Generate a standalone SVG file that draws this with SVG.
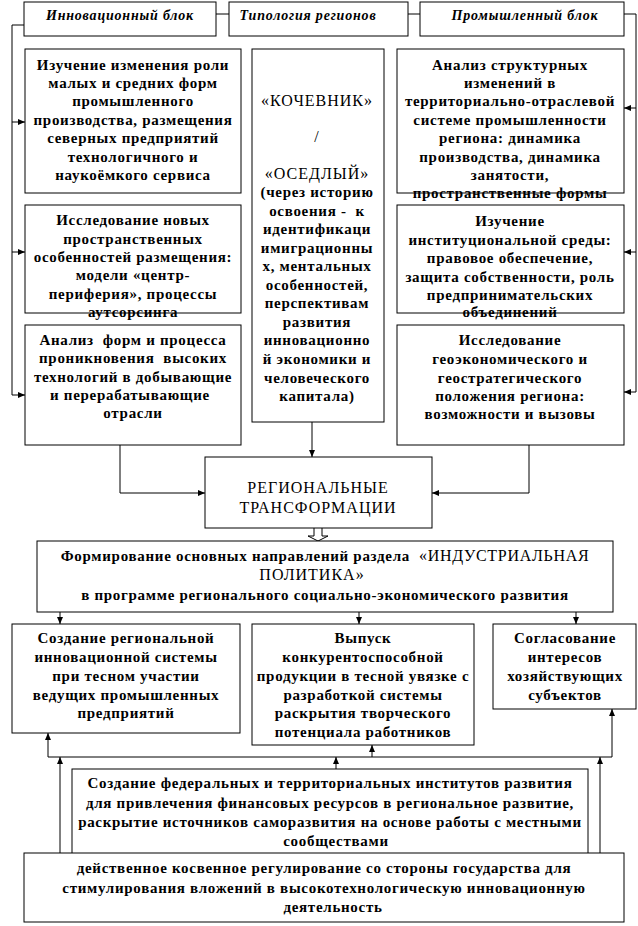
<svg xmlns="http://www.w3.org/2000/svg" width="638" height="926" viewBox="0 0 638 926">
<style>
.bx{fill:#fff;stroke:#000;stroke-width:1}
.t{font-family:"Liberation Serif","Times New Roman",serif;font-size:15px;font-weight:bold;letter-spacing:0.7px;text-anchor:middle;fill:#000}
.h{font-family:"Liberation Serif","Times New Roman",serif;font-size:14px;font-weight:bold;font-style:italic;letter-spacing:0.8px;text-anchor:middle;fill:#000}
.n{font-family:"Liberation Serif","Times New Roman",serif;font-size:16px;font-weight:normal;letter-spacing:1px;text-anchor:middle;fill:#000}
.c{fill:none;stroke:#000;stroke-width:1}
.a{marker-end:url(#ah)}
</style>
<defs>
<marker id="ah" markerUnits="userSpaceOnUse" markerWidth="8" markerHeight="8" refX="7" refY="3" orient="auto">
<path d="M0,0 L7,3 L0,6 z" fill="#000"/>
</marker>
</defs>
<rect x="0" y="0" width="638" height="926" fill="#fff"/>

<g id="connectors">
<path class="c" d="M216,14 H229"/>
<path class="c" d="M408,14 H420"/>
<path class="c a" d="M24,25 H12 V395 H25"/>
<path class="c a" d="M12,122 H25"/>
<path class="c a" d="M12,252 H25"/>
<path class="c a" d="M624,14 H636 V392 H624"/>
<path class="c a" d="M636,108 H624"/>
<path class="c a" d="M636,252 H624"/>
<path class="c a" d="M312,422 V457"/>
<path class="c a" d="M120,445 V493 H205"/>
<path class="c a" d="M529,445 V493 H432"/>
<path class="c" d="M314,528 V536 H308 L318,541 L328,536 H322 V528" fill="#fff"/>
<path class="c a" d="M60,612 V624"/>
<path class="c a" d="M359,612 V624"/>
<path class="c a" d="M576,612 V624"/>
<path class="c" d="M48,757 H612"/>
<path class="c a" d="M48,757 V733"/>
<path class="c a" d="M372,757 V745"/>
<path class="c a" d="M612,757 V709"/>
<path class="c a" d="M60,853 V757"/>
<path class="c a" d="M336,769 V757"/>
<path class="c a" d="M600,853 V757"/>
</g>

<g id="hdr-innov">
<rect class="bx" x="24" y="2" width="192" height="34"/>
<text class="h" x="120" y="20">Инновационный блок</text>
</g>
<g id="hdr-typ">
<rect class="bx" x="229" y="2" width="179" height="34"/>
<text class="h" x="308" y="20">Типология регионов</text>
</g>
<g id="hdr-prom">
<rect class="bx" x="420" y="2" width="204" height="34"/>
<text class="h" x="525" y="20">Промышленный блок</text>
</g>

<g id="left1">
<rect class="bx" x="25" y="49" width="216" height="144"/>
<text class="t" x="133" y="70">Изучение изменения роли</text>
<text class="t" x="133" y="88">малых и средних форм</text>
<text class="t" x="133" y="106">промышленного</text>
<text class="t" x="133" y="125">производства, размещения</text>
<text class="t" x="133" y="143">северных предприятий</text>
<text class="t" x="133" y="162">технологичного и</text>
<text class="t" x="133" y="180">наукоёмкого сервиса</text>
</g>
<g id="left2">
<rect class="bx" x="25" y="205" width="216" height="108"/>
<text class="t" x="133" y="225">Исследование новых</text>
<text class="t" x="133" y="244">пространственных</text>
<text class="t" x="133" y="262">особенностей размещения:</text>
<text class="t" x="133" y="280">модели «центр-</text>
<text class="t" x="133" y="299">периферия», процессы</text>
<text class="t" x="133" y="317">аутсорсинга</text>
</g>
<g id="left3">
<rect class="bx" x="25" y="325" width="216" height="120"/>
<text class="t" x="133" y="345" xml:space="preserve">Анализ  форм и процесса</text>
<text class="t" x="133" y="363" xml:space="preserve">проникновения  высоких</text>
<text class="t" x="133" y="382">технологий в добывающие</text>
<text class="t" x="130" y="400">и перерабатывающие</text>
<text class="t" x="133" y="418">отрасли</text>
</g>

<g id="center">
<rect class="bx" x="252" y="49" width="132" height="373"/>
<text class="n" x="317" y="106">«КОЧЕВНИК»</text>
<text class="n" x="317" y="142">/</text>
<text class="n" x="317" y="179">«ОСЕДЛЫЙ»</text>
<text class="t" x="317" y="197">(через историю</text>
<text class="t" x="317" y="216" xml:space="preserve">освоения -  к</text>
<text class="t" x="317" y="234">идентификаци</text>
<text class="t" x="317" y="253">имиграционны</text>
<text class="t" x="317" y="271">х, ментальных</text>
<text class="t" x="317" y="290">особенностей,</text>
<text class="t" x="317" y="308">перспективам</text>
<text class="t" x="317" y="327">развития</text>
<text class="t" x="317" y="345">инновационно</text>
<text class="t" x="317" y="364">й экономики и</text>
<text class="t" x="317" y="383">человеческого</text>
<text class="t" x="317" y="401">капитала)</text>
</g>

<g id="right1">
<rect class="bx" x="397" y="49" width="227" height="144"/>
<text class="t" x="510" y="70">Анализ структурных</text>
<text class="t" x="510" y="88">изменений в</text>
<text class="t" x="510" y="106">территориально-отраслевой</text>
<text class="t" x="510" y="125">системе промышленности</text>
<text class="t" x="510" y="143">региона: динамика</text>
<text class="t" x="510" y="162">производства, динамика</text>
<text class="t" x="510" y="180">занятости,</text>
<text class="t" x="510" y="198">пространственные формы</text>
</g>
<g id="right2">
<rect class="bx" x="397" y="205" width="227" height="108"/>
<text class="t" x="510" y="226">Изучение</text>
<text class="t" x="510" y="245">институциональной среды:</text>
<text class="t" x="510" y="263">правовое обеспечение,</text>
<text class="t" x="510" y="282">защита собственности, роль</text>
<text class="t" x="510" y="300">предпринимательских</text>
<text class="t" x="510" y="317">объединений</text>
</g>
<g id="right3">
<rect class="bx" x="397" y="325" width="227" height="120"/>
<text class="t" x="510" y="345">Исследование</text>
<text class="t" x="510" y="364">геоэкономического и</text>
<text class="t" x="510" y="383">геостратегического</text>
<text class="t" x="510" y="401">положения региона:</text>
<text class="t" x="510" y="419">возможности и вызовы</text>
</g>

<g id="regtrans">
<rect class="bx" x="205" y="457" width="227" height="71"/>
<text class="n" x="318" y="493">РЕГИОНАЛЬНЫЕ</text>
<text class="n" x="318" y="513">ТРАНСФОРМАЦИИ</text>
</g>

<g id="formirovanie">
<rect class="bx" x="37" y="541" width="576" height="71"/>
<text class="t" x="325" y="561" xml:space="preserve">Формирование основных направлений раздела  <tspan style="font-weight:normal;font-size:16px">«ИНДУСТРИАЛЬНАЯ</tspan></text>
<text class="n" x="312" y="580">ПОЛИТИКА»</text>
<text class="t" x="325" y="600">в программе регионального социально-экономического развития</text>
</g>

<g id="innovsys">
<rect class="bx" x="12" y="624" width="228" height="109"/>
<text class="t" x="126" y="643">Создание региональной</text>
<text class="t" x="126" y="662">инновационной системы</text>
<text class="t" x="126" y="681">при тесном участии</text>
<text class="t" x="126" y="700">ведущих промышленных</text>
<text class="t" x="126" y="718">предприятий</text>
</g>
<g id="vypusk">
<rect class="bx" x="252" y="624" width="222" height="121"/>
<text class="t" x="363" y="643">Выпуск</text>
<text class="t" x="363" y="662">конкурентоспособной</text>
<text class="t" x="363" y="681">продукции в тесной увязке с</text>
<text class="t" x="363" y="700">разработкой системы</text>
<text class="t" x="363" y="718">раскрытия творческого</text>
<text class="t" x="363" y="737">потенциала работников</text>
</g>
<g id="soglas">
<rect class="bx" x="493" y="624" width="143" height="85"/>
<text class="t" x="565" y="643">Согласование</text>
<text class="t" x="565" y="662">интересов</text>
<text class="t" x="565" y="681">хозяйствующих</text>
<text class="t" x="565" y="700">субъектов</text>
</g>

<g id="institut">
<rect class="bx" x="72" y="769" width="516" height="90"/>
<text class="t" x="330" y="788">Создание федеральных и территориальных институтов развития</text>
<text class="t" x="330" y="808">для привлечения финансовых ресурсов в региональное развитие,</text>
<text class="t" x="330" y="827">раскрытие источников саморазвития на основе работы с местными</text>
<text class="t" x="336" y="846">сообществами</text>
</g>
<g id="regul">
<rect class="bx" x="24" y="853" width="600" height="69"/>
<text class="t" x="324" y="873">действенное косвенное регулирование со стороны государства для</text>
<text class="t" x="324" y="893">стимулирования вложений в высокотехнологическую инновационную</text>
<text class="t" x="333" y="912">деятельность</text>
</g>
</svg>
